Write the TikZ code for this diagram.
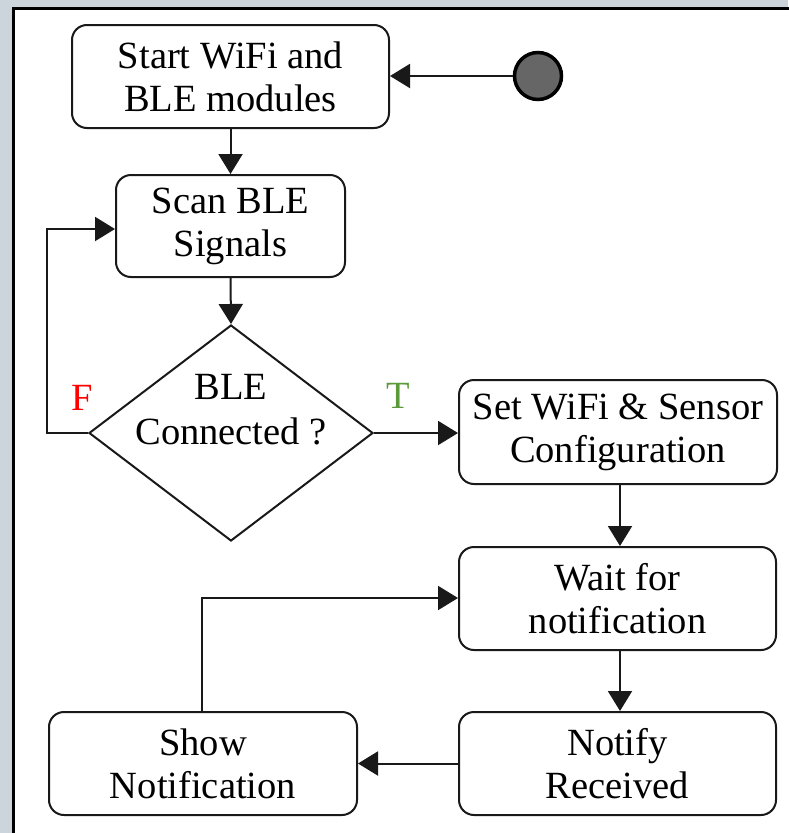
\documentclass[tikz,border=0pt]{standalone}
\usepackage{fontspec}
\setmainfont{Liberation Serif}
\usetikzlibrary{arrows.meta,shapes.geometric}
\definecolor{bggray}{HTML}{CBD5DB}
\definecolor{tgreen}{HTML}{5B9A3B}
\begin{document}
\begin{tikzpicture}[x=1pt,y=-1pt,
  box/.style={draw=black!90,line width=2pt,rounded corners=15pt,align=center,
    font=\fontsize{38.5}{43}\selectfont,inner sep=0pt},
  conn/.style={draw=black!90,line width=2pt,-{Triangle[length=20pt,width=24pt]}},
  lbl/.style={font=\fontsize{38.5}{43}\selectfont,inner sep=0pt}]
\useasboundingbox (0,0) rectangle (788,833);
\fill[bggray] (0,0) rectangle (788,833);
\filldraw[fill=white,draw=black,line width=3pt] (13.5,8.5) rectangle (800,845);
% nodes
\node[box,minimum width=317pt,minimum height=103pt] (start) at (230.5,76.5) {Start WiFi and\\BLE modules};
\node[draw=black,line width=3.5pt,fill=black!60,circle,minimum size=47pt,inner sep=0pt] (init) at (538,76) {};
\node[box,minimum width=229pt,minimum height=102pt] (scan) at (230.5,226) {Scan BLE\\Signals};
\node[draw=black!90,line width=2pt,diamond,aspect=1.315,minimum width=284pt,minimum height=216pt,inner sep=0pt] (dec) at (231,433) {};
\node[lbl,align=center,font=\fontsize{38.5}{45}\selectfont] (dectext) at (231,410) {BLE\\Connected ?};
\node[box,minimum width=318pt,minimum height=104pt] (cfg) at (618,432) {Set WiFi \& Sensor\\Configuration};
\node[box,minimum width=317pt,minimum height=103pt] (wait) at (617.5,598.5) {Wait for\\notification};
\node[box,minimum width=317pt,minimum height=103pt] (notify) at (617.5,763.5) {Notify\\Received};
\node[box,minimum width=308pt,minimum height=103pt] (show) at (203,763.5) {Show\\Notification};
\node[lbl,text=red] (F) at (82,398) {F};
\node[lbl,text=tgreen] (T) at (398,396) {T};
\coordinate (loopA) at (47,433);
\coordinate (loopB) at (47,229);
\coordinate (backA) at (202,598);
\coordinate (vx) at (620,0);
% connectors
\draw[conn] (init) -- (start.east |- init);
\draw[conn] (start.south) -- (scan.north);
\draw[conn] (scan.south) -- (dec.north);
\draw[conn] (dec.west) -- (loopA) -- (loopB) -- (scan.west |- loopB);
\draw[conn] (dec.east) -- (cfg.west |- dec.east);
\draw[conn] (cfg.south -| vx) -- (wait.north -| vx);
\draw[conn] (wait.south -| vx) -- (notify.north -| vx);
\draw[conn] (notify.west) -- (show.east);
\draw[conn] (show.north -| backA) -- (backA) -- (wait.west |- backA);
\end{tikzpicture}
\end{document}
